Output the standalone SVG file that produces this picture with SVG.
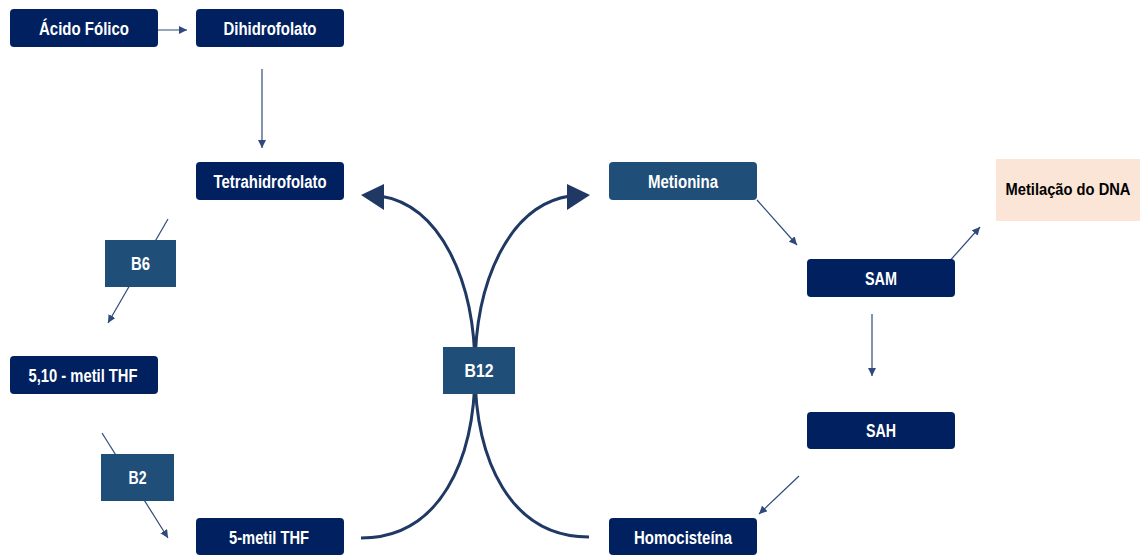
<svg xmlns="http://www.w3.org/2000/svg" width="1140" height="555" viewBox="0 0 1140 555">
<style>
.n{fill:#002060}
.m{fill:#1F4E79}
.t{font-family:"Liberation Sans",Arial,sans-serif;font-weight:bold;font-size:18px;fill:#fff;text-anchor:middle}
.k{fill:#000;font-size:16.5px}
.c{stroke:#2F4A7A;stroke-width:1.2;fill:none}
.big{stroke:#203864;stroke-width:3;fill:none}
.head{fill:#203864}
</style>
<defs>
<marker id="ah" viewBox="0 0 10 10" refX="10" refY="5" markerWidth="8" markerHeight="8" markerUnits="userSpaceOnUse" orient="auto">
<path d="M0,0 L10,5 L0,10 z" fill="#2F4A7A"/>
</marker>
</defs>
<rect width="1140" height="555" fill="#fff"/>
<g id="connectors">
<line class="c" x1="150" y1="30" x2="187" y2="30" marker-end="url(#ah)"/>
<line class="c" x1="262" y1="69" x2="262" y2="148" marker-end="url(#ah)"/>
<line class="c" x1="168" y1="219" x2="108" y2="323" marker-end="url(#ah)"/>
<line class="c" x1="102" y1="433" x2="168" y2="538" marker-end="url(#ah)"/>
<line class="c" x1="757" y1="200" x2="797" y2="245" marker-end="url(#ah)"/>
<line class="c" x1="872" y1="314" x2="872" y2="376" marker-end="url(#ah)"/>
<line class="c" x1="947" y1="264" x2="980" y2="227" marker-end="url(#ah)"/>
<line class="c" x1="799" y1="476" x2="759" y2="514" marker-end="url(#ah)"/>
<path class="big" d="M361,538 C440,538 475,460 475,370 C475,280 440,205 380,196"/>
<path class="big" d="M589,537 C510,537 475,460 475,370 C475,280 510,205 570,196"/>
<polygon class="head" points="361,195 384,184 384,210"/>
<polygon class="head" points="590,195 567,184 567,210"/>
</g>
<g id="acido"><rect class="n" x="10" y="9" width="148" height="38" rx="4"/><text class="t" x="84" y="34.5" textLength="90" lengthAdjust="spacingAndGlyphs">Ácido Fólico</text></g>
<g id="dihidro"><rect class="n" x="196" y="9" width="148" height="38" rx="4"/><text class="t" x="270" y="34.5" textLength="93" lengthAdjust="spacingAndGlyphs">Dihidrofolato</text></g>
<g id="tetra"><rect class="n" x="196" y="162" width="148" height="38" rx="4"/><text class="t" x="270" y="187.5" textLength="113" lengthAdjust="spacingAndGlyphs">Tetrahidrofolato</text></g>
<g id="b6"><rect class="m" x="105" y="240" width="71" height="47"/><text class="t" x="140.5" y="270" textLength="19" lengthAdjust="spacingAndGlyphs">B6</text></g>
<g id="metil510"><rect class="n" x="10" y="356" width="148" height="38" rx="4"/><text class="t" x="83" y="381.5" textLength="109" lengthAdjust="spacingAndGlyphs">5,10 - metil THF</text></g>
<g id="b2"><rect class="m" x="101" y="454" width="73" height="47"/><text class="t" x="137.5" y="484" textLength="18" lengthAdjust="spacingAndGlyphs">B2</text></g>
<g id="metil5"><rect class="n" x="196" y="518" width="148" height="37" rx="4"/><text class="t" x="269" y="544" textLength="80" lengthAdjust="spacingAndGlyphs">5-metil THF</text></g>
<g id="b12"><rect class="m" x="443" y="347" width="72" height="47"/><text class="t" x="479" y="377" textLength="29" lengthAdjust="spacingAndGlyphs">B12</text></g>
<g id="metionina"><rect class="m" x="609" y="162" width="148" height="38" rx="4"/><text class="t" x="683" y="187.5" textLength="70" lengthAdjust="spacingAndGlyphs">Metionina</text></g>
<g id="homocisteina"><rect class="n" x="609" y="518" width="148" height="37" rx="4"/><text class="t" x="683" y="544" textLength="98" lengthAdjust="spacingAndGlyphs">Homocisteína</text></g>
<g id="sam"><rect class="n" x="807" y="259" width="148" height="38" rx="4"/><text class="t" x="881" y="284.5" textLength="32" lengthAdjust="spacingAndGlyphs">SAM</text></g>
<g id="sah"><rect class="n" x="807" y="412" width="148" height="37" rx="4"/><text class="t" x="881" y="437" textLength="30" lengthAdjust="spacingAndGlyphs">SAH</text></g>
<g id="metilacao"><rect x="996" y="159" width="144" height="62" fill="#FBE5D6"/><text class="t k" x="1068" y="195" textLength="125" lengthAdjust="spacingAndGlyphs">Metilação do DNA</text></g>
</svg>
